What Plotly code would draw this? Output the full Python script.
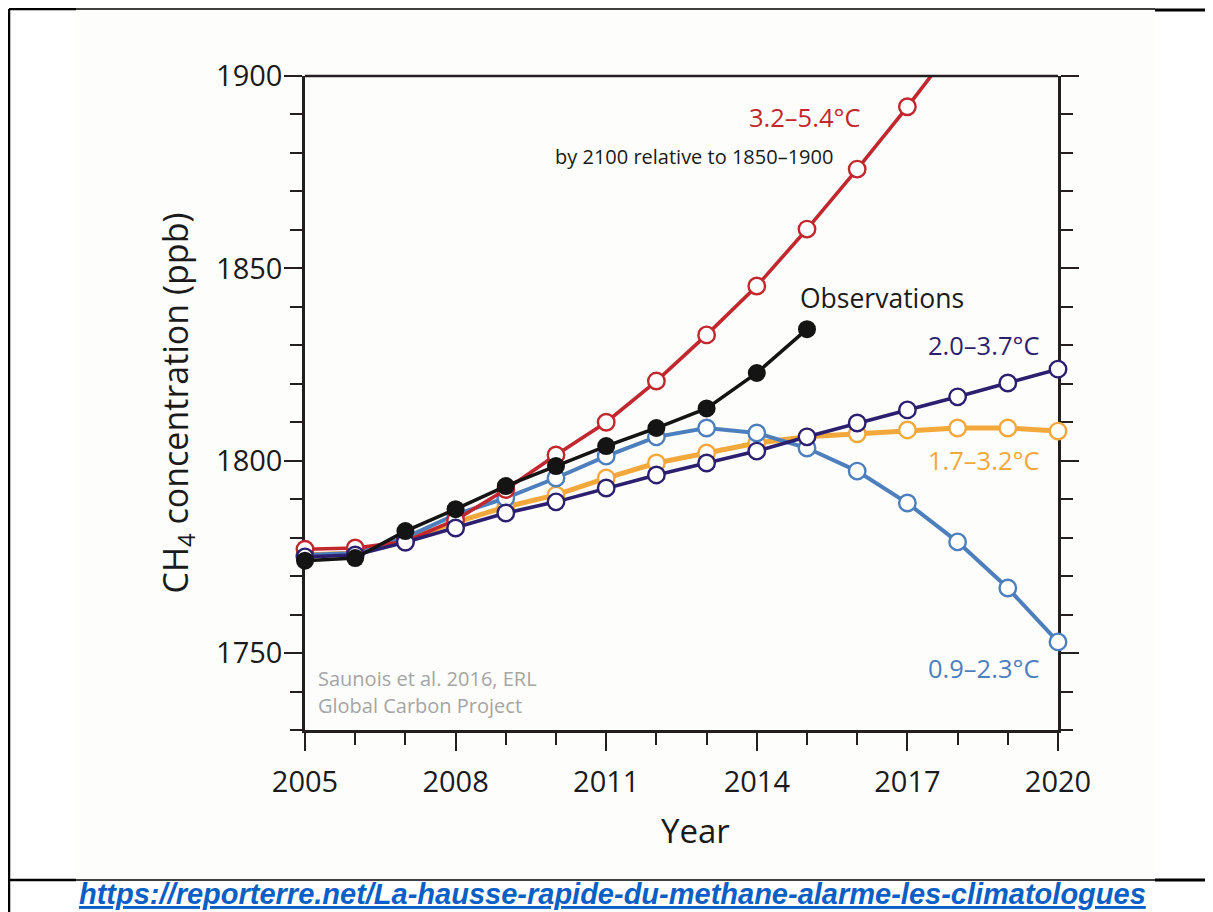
import plotly.graph_objects as go

# ---------------- data ----------------
years = list(range(2005, 2021))
obs_years = list(range(2005, 2016))

red_years = list(range(2005, 2019))
red_vals = [1777, 1777.3, 1779, 1784.6, 1792.5, 1801.5, 1810, 1820.7, 1832.7, 1845.4, 1860.2, 1875.8, 1892, 1909]

obs_vals = [1774, 1774.7, 1781.7, 1787.4, 1793.4, 1798.6, 1803.8, 1808.5, 1813.6, 1822.8, 1834.2]

blue_vals = [1775.5, 1776, 1780, 1786, 1790.3, 1795.5, 1801.2, 1806.2, 1808.5, 1807.2, 1803.3, 1797.3, 1789, 1778.9, 1766.9, 1752.9]

orange_vals = [1775.5, 1776, 1779.5, 1784, 1788, 1791.1, 1795.5, 1799.4, 1802, 1804.6, 1806.2, 1807, 1808, 1808.5, 1808.5, 1807.7]

purple_vals = [1775, 1775.5, 1778.8, 1782.5, 1786.4, 1789.3, 1792.9, 1796.3, 1799.4, 1802.5, 1806.2, 1809.8, 1813.2, 1816.6, 1820.2, 1823.8]

x_ticks = [2005, 2008, 2011, 2014, 2017, 2020]
y_ticks = [1750, 1800, 1850, 1900]
x_range = [2005, 2020]
y_range = [1730, 1900]

RED = "#c1272d"
ORANGE = "#f2a83a"
BLUE = "#4d7fbd"
PURPLE = "#2c1f6f"
BLACK = "#141414"
AXIS = "#231f20"
TXT = "#1a1a1a"
FONT = "Open Sans"

fig = go.Figure()


def open_series(xs, ys, color, lw, name):
    fig.add_trace(go.Scatter(
        x=xs, y=ys, mode="lines", name=name,
        line=dict(color=color, width=lw), hoverinfo="skip", showlegend=False))
    mx = [x for x, y in zip(xs, ys) if y_range[0] <= y <= y_range[1]]
    my = [y for y in ys if y_range[0] <= y <= y_range[1]]
    fig.add_trace(go.Scatter(
        x=mx, y=my, mode="markers", name=name, cliponaxis=False,
        marker=dict(size=16.5, color="white", line=dict(color=color, width=2.4)),
        showlegend=False))


open_series(years, orange_vals, ORANGE, 5, "1.7–3.2°C")
open_series(years, blue_vals, BLUE, 4, "0.9–2.3°C")
open_series(red_years, red_vals, RED, 3.6, "3.2–5.4°C")
open_series(years, purple_vals, PURPLE, 3.6, "2.0–3.7°C")

fig.add_trace(go.Scatter(
    x=obs_years, y=obs_vals, mode="lines+markers", name="Observations",
    cliponaxis=False,
    line=dict(color=BLACK, width=3.5),
    marker=dict(size=18, color=BLACK), showlegend=False))

# invisible trace for right axis
fig.add_trace(go.Scatter(x=[2005], y=[1800], yaxis="y2", mode="markers",
                         marker=dict(opacity=0), showlegend=False, hoverinfo="skip"))

# ---------------- layout ----------------
OFF = 8  # page body margin
# plot-area edges in page pixels
Lp, Rp, Tp, Bp = 305, 1058, 76, 730
W, H = 1213 - OFF, 912 - OFF


def px(xp):
    return (xp - Lp) / (Rp - Lp)


def py(yp):
    return (Bp - yp) / (Bp - Tp)


shapes = [
    # light image background
    dict(type="rect", xref="paper", yref="paper", x0=px(76), x1=px(1155), y0=py(879), y1=py(10),
         fillcolor="#fdfdfb", line=dict(width=0), layer="below"),
    # frame lines
    dict(type="line", xref="paper", yref="paper", x0=px(9), x1=px(9), y0=py(9), y1=py(912),
         line=dict(color="black", width=2.5)),
    dict(type="line", xref="paper", yref="paper", x0=px(9), x1=px(76), y0=py(9), y1=py(9),
         line=dict(color="black", width=2.5)),
    dict(type="line", xref="paper", yref="paper", x0=px(76), x1=px(1155), y0=py(9), y1=py(9),
         line=dict(color="black", width=1.5)),
    dict(type="line", xref="paper", yref="paper", x0=px(1155), x1=px(1213), y0=py(10), y1=py(10),
         line=dict(color="black", width=3)),
    dict(type="line", xref="paper", yref="paper", x0=px(9), x1=px(76), y0=py(880), y1=py(880),
         line=dict(color="black", width=2.5)),
    dict(type="line", xref="paper", yref="paper", x0=px(76), x1=px(1155), y0=py(880), y1=py(880),
         line=dict(color="black", width=1.5)),
    dict(type="line", xref="paper", yref="paper", x0=px(1155), x1=px(1213), y0=py(880), y1=py(880),
         line=dict(color="black", width=3)),
    # top plot border
    dict(type="line", xref="paper", yref="paper", x0=0, x1=1, y0=1, y1=1,
         line=dict(color=AXIS, width=2.5)),
]

annotations = [
    dict(x=2016.1, y=1889.3, xref="x", yref="y", text="3.2–5.4°C", showarrow=False,
         xanchor="right", yanchor="middle", font=dict(family=FONT, size=25.5, color=RED)),
    dict(x=2015.56, y=1879.2, xref="x", yref="y", text="by 2100 relative to 1850–1900",
         showarrow=False, xanchor="right", yanchor="middle",
         font=dict(family=FONT, size=20, color=TXT)),
    dict(x=2014.82, y=1842.3, xref="x", yref="y", text="Observations", showarrow=False,
         xanchor="left", yanchor="middle", font=dict(family=FONT, size=26.5, color=TXT)),
    dict(x=2019.66, y=1830.1, xref="x", yref="y", text="2.0–3.7°C", showarrow=False,
         xanchor="right", yanchor="middle", font=dict(family=FONT, size=25.5, color=PURPLE)),
    dict(x=2019.66, y=1800.2, xref="x", yref="y", text="1.7–3.2°C", showarrow=False,
         xanchor="right", yanchor="middle", font=dict(family=FONT, size=25.5, color=ORANGE)),
    dict(x=2019.66, y=1746.1, xref="x", yref="y", text="0.9–2.3°C", showarrow=False,
         xanchor="right", yanchor="middle", font=dict(family=FONT, size=25.5, color=BLUE)),
    dict(x=2005.22, y=1743.3, xref="x", yref="y", text="Saunois et al. 2016, ERL",
         showarrow=False, xanchor="left", yanchor="middle",
         font=dict(family=FONT, size=20, color="#a5a5a5")),
    dict(x=2005.22, y=1736.3, xref="x", yref="y", text="Global Carbon Project",
         showarrow=False, xanchor="left", yanchor="middle",
         font=dict(family=FONT, size=20, color="#a5a5a5")),
    # x-axis title
    dict(x=px(695), y=py(830), xref="paper", yref="paper", text="Year",
         showarrow=False, xanchor="center", yanchor="middle",
         font=dict(family=FONT, size=33, color=TXT)),
    dict(x=px(612), y=py(894), xref="paper", yref="paper",
         text="<b><i><u>https://reporterre.net/La-hausse-rapide-du-methane-alarme-les-climatologues</u></i></b>",
         showarrow=False, xanchor="center", yanchor="middle", borderpad=0,
         font=dict(family="Liberation Sans", size=29, color="#0b5fc4")),
]

fig.update_layout(
    width=W, height=H,
    margin=dict(l=Lp - OFF, r=(W + OFF) - Rp, t=Tp - OFF, b=(H + OFF) - Bp, pad=0),
    paper_bgcolor="white", plot_bgcolor="rgba(0,0,0,0)",
    showlegend=False,
    shapes=shapes, annotations=annotations,
    xaxis=dict(
        range=x_range, tickvals=x_ticks, ticktext=[str(v) for v in x_ticks],
        showgrid=False, zeroline=False, showline=True, linecolor=AXIS, linewidth=2.5,
        ticks="outside", ticklen=18, tickwidth=2.2, tickcolor=AXIS,
        minor=dict(dtick=1, tick0=2005, ticks="outside", ticklen=12, tickwidth=2.2, tickcolor=AXIS,
                   showgrid=False),
        tickfont=dict(family=FONT, size=29, color=TXT),
        ticklabelstandoff=6,
        layer="below traces",
    ),
    yaxis=dict(
        range=y_range, tickvals=y_ticks,
        showgrid=False, zeroline=False, showline=True, linecolor=AXIS, linewidth=2.5,
        ticks="outside", ticklen=18, tickwidth=2.2, tickcolor=AXIS,
        minor=dict(dtick=10, tick0=1730, ticks="outside", ticklen=12, tickwidth=2.2, tickcolor=AXIS,
                   showgrid=False),
        tickfont=dict(family=FONT, size=29, color=TXT),
        ticklabelstandoff=-4,
        title=dict(text="CH<sub>4</sub> concentration (ppb)",
                   font=dict(family=FONT, size=34, color=TXT), standoff=18),
        layer="below traces",
    ),
    yaxis2=dict(
        range=y_range, overlaying="y", side="right", anchor="x",
        tickvals=y_ticks, showticklabels=False,
        showgrid=False, zeroline=False, showline=True, linecolor=AXIS, linewidth=2.5,
        ticks="outside", ticklen=18, tickwidth=2.2, tickcolor=AXIS,
        minor=dict(dtick=10, tick0=1730, ticks="outside", ticklen=12, tickwidth=2.2, tickcolor=AXIS,
                   showgrid=False),
        layer="below traces",
    ),
)

fig.write_html("out.html")
